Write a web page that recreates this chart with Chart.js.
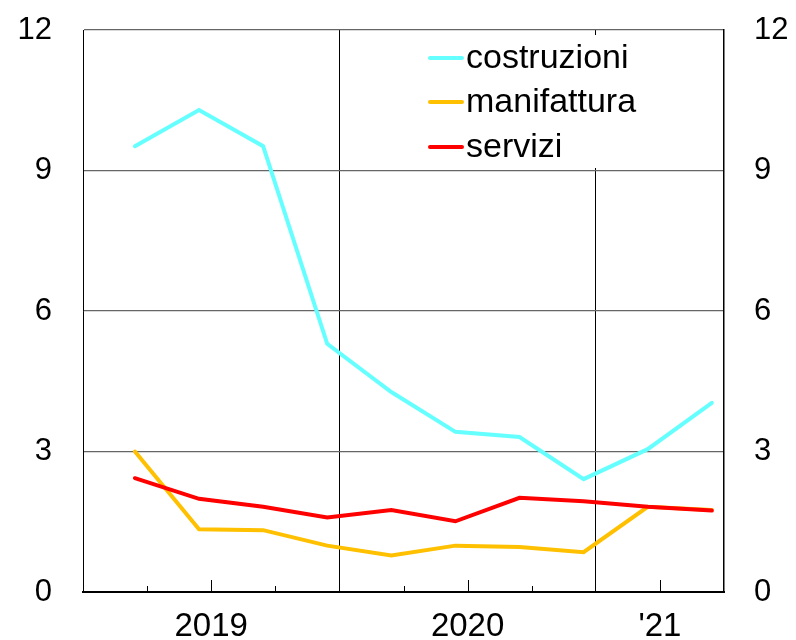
<!DOCTYPE html>
<html><head><meta charset="utf-8">
<script src="https://cdn.jsdelivr.net/npm/chart.js@4/dist/chart.umd.min.js"></script>
<style>html,body{margin:0;padding:0;background:#fff;}canvas{display:block;}</style>
</head><body>
<canvas id="c" width="796" height="640"></canvas>
<script>
// ---- data ----
const quarters = ['2019 T1','2019 T2','2019 T3','2019 T4','2020 T1','2020 T2','2020 T3','2020 T4','2021 T1','2021 T2'];
const costruzioni = [9.52, 10.29, 9.52, 5.30, 4.27, 3.42, 3.31, 2.41, 3.05, 4.04];
const manifattura = [3.00, 1.34, 1.32, 0.99, 0.78, 0.99, 0.96, 0.85, 1.82, 1.75];
const servizi     = [2.43, 1.99, 1.82, 1.59, 1.75, 1.51, 2.01, 1.94, 1.82, 1.74];
const seriesNames = ['costruzioni', 'manifattura', 'servizi'];
const yearLabels = ['2019', '2020', "'21"];
const yearLabelAt = [2, 6, 9];      // quarter units from start of 2019
const yearBoundaries = [4, 8];
const yTicks = [0, 3, 6, 9, 12];
const POINT_OFFSET = 0.81;          // observation date within quarter

const FAMILY = "'Liberation Sans', Arial, sans-serif";
const XFONT = {family: FAMILY, size: 33};
const YFONT = {family: FAMILY, size: 31};
const LEGEND_SIZE = 34;
const colors = ['#66FFFF', '#FFC000', '#FF0000'];

const toPts = arr => arr.map((v, i) => ({x: i + POINT_OFFSET, y: v}));
const seriesData = [costruzioni, manifattura, servizi];

const datasets = seriesNames.map((n, k) => ({
  label: n,
  data: toPts(seriesData[k]),
  borderColor: colors[k],
  backgroundColor: colors[k],
  borderWidth: 4,
  pointRadius: 0,
  tension: 0,
  borderCapStyle: 'round',
  order: [1, 2, 0][k]
}));

const decorPlugin = {
  id: 'decor',
  afterDraw(chart) {
    const ctx = chart.ctx, xs = chart.scales.x, a = chart.chartArea;
    ctx.save();
    // inward tick marks
    ctx.strokeStyle = '#000'; ctx.lineWidth = 1;
    for (let v = 1; v < 10; v++) {
      if (yearBoundaries.includes(v)) continue;
      const len = yearLabelAt.includes(v) ? 12 : 6;
      const px = Math.round(xs.getPixelForValue(v)) + 0.5;
      ctx.beginPath(); ctx.moveTo(px, a.bottom); ctx.lineTo(px, a.bottom - len); ctx.stroke();
    }
    // legend
    ctx.fillStyle = '#fff';
    ctx.fillRect(420, a.top + 5, a.right - 421, 133);
    ctx.font = LEGEND_SIZE + 'px ' + FAMILY;
    ctx.textBaseline = 'middle'; ctx.textAlign = 'left';
    const rows = [58, 102, 147];
    chart.data.datasets.forEach((ds, i) => {
      const y = rows[i];
      ctx.strokeStyle = ds.borderColor; ctx.lineWidth = 4; ctx.lineCap = 'round';
      ctx.beginPath(); ctx.moveTo(430, y); ctx.lineTo(462, y); ctx.stroke();
      ctx.fillStyle = '#000';
      ctx.fillText(ds.label, 466, y + 1);
    });
    ctx.restore();
  }
};

const noPad = s => { s.paddingTop = 0; s.paddingBottom = 0; s.paddingLeft = 0; s.paddingRight = 0; };

new Chart(document.getElementById('c'), {
  type: 'line',
  data: {datasets},
  options: {
    responsive: false,
    animation: false,
    layout: {padding: {top: 30, left: 0, right: 0, bottom: 0}},
    plugins: {legend: {display: false}, tooltip: {enabled: false}},
    scales: {
      x: {
        type: 'linear', min: 0, max: 10, position: 'bottom',
        afterBuildTicks: s => { s.ticks = quarters.concat(['end']).map((q, i) => ({value: i})); },
        afterFit: s => { s.height = 48; noPad(s); },
        ticks: {
          autoSkip: false, maxRotation: 0, minRotation: 0, padding: 15,
          color: '#000', font: XFONT,
          callback: v => { const k = yearLabelAt.indexOf(v); return k >= 0 ? yearLabels[k] : ''; }
        },
        grid: {
          drawTicks: false, lineWidth: 1,
          color: c => (c.tick && yearBoundaries.includes(c.tick.value)) ? '#000' : 'rgba(0,0,0,0)'
        },
        border: {color: '#000', width: 2}
      },
      y: {
        type: 'linear', min: 0, max: 12, position: 'left',
        afterBuildTicks: s => { s.ticks = yTicks.map(v => ({value: v})); },
        afterFit: s => { s.width = 83; noPad(s); },
        ticks: {padding: 31, color: '#000', font: YFONT},
        grid: {drawTicks: false, color: '#666666', lineWidth: 1.3},
        border: {color: '#000', width: 1}
      },
      y2: {
        type: 'linear', min: 0, max: 12, position: 'right',
        afterBuildTicks: s => { s.ticks = yTicks.map(v => ({value: v})); },
        afterFit: s => { s.width = 72; noPad(s); },
        ticks: {padding: 30, color: '#000', font: YFONT},
        grid: {display: false, drawTicks: false},
        border: {color: '#000', width: 1.5}
      }
    }
  },
  plugins: [decorPlugin]
});
</script>
</body></html>
